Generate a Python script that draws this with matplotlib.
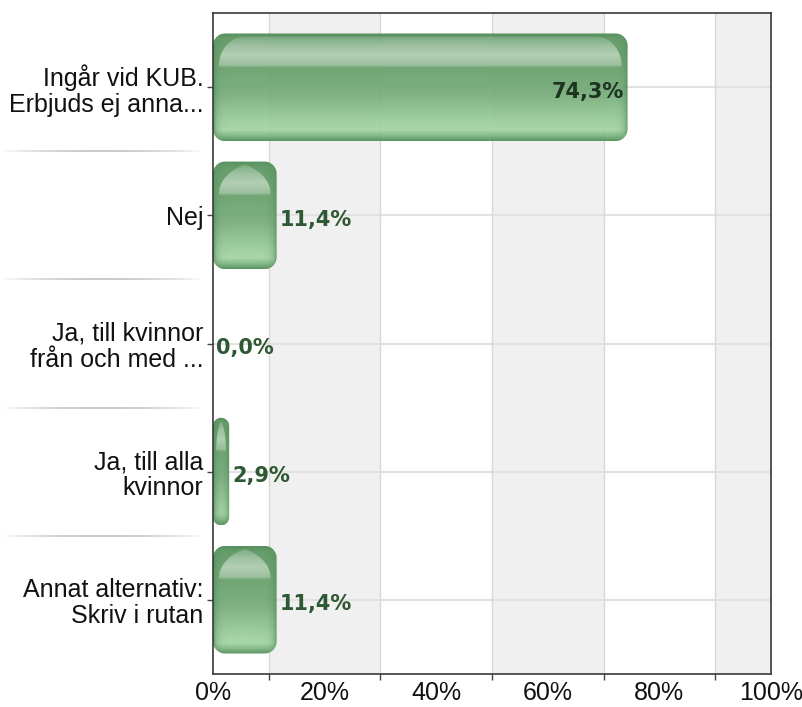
import numpy as np
import matplotlib
matplotlib.use("Agg")
import matplotlib.pyplot as plt
from matplotlib.patches import PathPatch
from matplotlib.path import Path
from matplotlib.collections import LineCollection
from matplotlib.colors import to_rgb
import matplotlib.transforms as mtransforms

# ---- data ----
categories = ["Ingår vid KUB.\nErbjuds ej anna...", "Nej",
              "Ja, till kvinnor\nfrån och med ...", "Ja, till alla\nkvinnor",
              "Annat alternativ:\nSkriv i rutan"]
values = [74.3, 11.4, 0.0, 2.9, 11.4]
value_labels = ["74,3%", "11,4%", "0,0%", "2,9%", "11,4%"]
xticks = [0, 20, 40, 60, 80, 100]
xtick_labels = ["0%", "20%", "40%", "60%", "80%", "100%"]
minor_ticks = [10, 30, 50, 70, 90]

W, H = 803, 707
fig = plt.figure(figsize=(W / 100, H / 100), dpi=100)
ax = fig.add_axes([213 / W, 1 - 674 / H, (771 - 213) / W, (674 - 13) / H])

n = len(categories)
ypos = np.arange(n)
ax.set_xlim(0, 100)
ax.set_ylim(n - 1 + 0.58, -0.58)

# background bands
bounds = [0] + minor_ticks + [100]
for i in range(len(bounds) - 1):
    if i % 2 == 1:
        ax.axvspan(bounds[i], bounds[i + 1], color="#f0f0f0", zorder=0, lw=0)

ax.set_xticks(xticks)
ax.set_xticklabels(xtick_labels, fontsize=18, family="Liberation Sans")
ax.set_xticks(minor_ticks, minor=True)
ax.tick_params(axis="x", which="major", length=0, pad=5, colors="#111111")
ax.tick_params(axis="x", which="minor", length=4, width=1, color="#444444")
ax.grid(True, axis="x", which="minor", color="#d8d8d8", lw=1, zorder=0.5)
ax.set_yticks(ypos)
ax.set_yticklabels(categories, fontsize=18, family="Liberation Sans", linespacing=1.12)
ax.tick_params(axis="y", length=4, width=1, color="#444444", pad=3)
for lab in ax.get_yticklabels():
    lab.set_color("#111111")
for s in ax.spines.values():
    s.set_color("#3a3a3a")
    s.set_linewidth(1.2)
    s.set_zorder(5)
for y in ypos:
    ax.axhline(y, color="#e2e2e2", lw=1.5, zorder=0.6)

bar_h = 0.84
px_x = ax.transData.transform((1, 0))[0] - ax.transData.transform((0, 0))[0]
px_y = abs(ax.transData.transform((0, 1))[1] - ax.transData.transform((0, 0))[1])


def lerp_colors(stops, t):
    ts = [s[0] for s in stops]
    cols = np.array([to_rgb(s[1]) for s in stops])
    out = np.zeros((len(t), 3))
    for c in range(3):
        out[:, c] = np.interp(t, ts, cols[:, c])
    return out


def rounded_path(x0, ytop, w, h, rx, ry):
    """Rounded rectangle with elliptical corners (y axis inverted)."""
    th = np.linspace(0, np.pi / 2, 24)
    pts = []
    cx, cy = x0 + rx, ytop + ry
    for a in th:
        pts.append((cx - rx * np.cos(a), cy - ry * np.sin(a)))
    cx = x0 + w - rx
    for a in th[::-1]:
        pts.append((cx + rx * np.cos(a), cy - ry * np.sin(a)))
    cy = ytop + h - ry
    for a in th:
        pts.append((cx + rx * np.cos(a), cy + ry * np.sin(a)))
    cx = x0 + rx
    for a in th[::-1]:
        pts.append((cx - rx * np.cos(a), cy + ry * np.sin(a)))
    pts.append(pts[0])
    codes = [Path.MOVETO] + [Path.LINETO] * (len(pts) - 2) + [Path.CLOSEPOLY]
    return Path(pts, codes)


def arch_path(x0, ytop, w, h, rx_px, ah_px, stretch):
    """Highlight shape: top corners are elliptical arcs; when stretch > 1 the
    arcs meet in a pointed (gothic) apex."""
    # work in pixel units, convert at the end
    wp, hp = w * px_x, h * px_y
    Rx = rx_px * stretch
    cosphi = (Rx - rx_px) / Rx
    phi = np.arccos(cosphi)
    Ry = ah_px / np.sin(phi)
    a = np.linspace(0, phi, 30)
    left = [(Rx - Rx * np.cos(t), ah_px - Ry * np.sin(t)) for t in a]
    right = [(wp - px, py) for px, py in left[::-1]]
    pts = left + right + [(wp, hp), (0, hp)]
    pts = [(x0 + px / px_x, ytop + py / px_y) for px, py in pts]
    pts.append(pts[0])
    codes = [Path.MOVETO] + [Path.LINETO] * (len(pts) - 2) + [Path.CLOSEPOLY]
    return Path(pts, codes)


body_stops = [(0.0, "#4a8850"), (0.05, "#5a965f"), (0.30, "#669f6a"),
              (0.55, "#75ab78"), (0.82, "#9bcd9c"), (0.90, "#a3d4a4"),
              (0.95, "#80b883"), (1.0, "#538f58")]
edge_col = np.array(to_rgb("#4a8850"))


def glossy_bar(y, w):
    if w <= 0:
        return
    wpx = w * px_x
    hpx = bar_h * px_y
    r = min(12.0, wpx / 2)
    ytop = y - bar_h / 2
    patch = PathPatch(rounded_path(0, ytop, w, bar_h, r / px_x, r / px_y),
                      facecolor="none", edgecolor="none", zorder=3)
    ax.add_patch(patch)
    nh, nw = int(hpx) + 1, max(int(wpx) + 1, 2)
    t = np.linspace(0, 1, nh)
    col = lerp_colors(body_stops, t)[:, None, :] * np.ones((1, nw, 1))
    xs = np.linspace(0, wpx, nw)
    d = np.minimum(xs, wpx - xs)
    f = np.exp(-d / 3.5)[None, :, None] * 0.8
    col = col * (1 - f) + edge_col * f
    img = np.dstack([col, np.full((nh, nw), 0.93)])
    im = ax.imshow(img, extent=(0, w, y + bar_h / 2, ytop),
                   origin="upper", aspect="auto", zorder=3,
                   interpolation="bilinear")
    im.set_clip_path(patch)
    # glossy highlight on top
    mx = min(6.0, wpx * 0.2)
    hx0 = mx / px_x
    hw = w - 2 * hx0
    htop = ytop + 3.0 / px_y
    hh = bar_h * 0.29
    if hw > 0:
        hwpx = hw * px_x
        if hwpx / 2 < 28.0:
            rx_px, stretch = hwpx / 2, 1.9
        else:
            rx_px, stretch = 26.0, 1.0
        ah_px = min(hh * px_y, 29.0)
        hpatch = PathPatch(arch_path(hx0, htop, hw, hh, rx_px, ah_px, stretch),
                           facecolor="none", edgecolor="none", zorder=3.5)
        ax.add_patch(hpatch)
        th = np.linspace(0, 1, 60)
        alpha = np.interp(th, [0, 0.3, 0.6, 0.92, 1.0], [0.14, 0.36, 0.48, 0.30, 0.0])
        himg = np.zeros((60, 2, 4))
        himg[:, :, :3] = 1.0
        himg[:, :, 3] = alpha[:, None]
        him = ax.imshow(himg, extent=(hx0, hx0 + hw, htop + hh, htop),
                        origin="upper", aspect="auto", zorder=3.5,
                        interpolation="bilinear")
        him.set_clip_path(hpatch)


for y, v in zip(ypos, values):
    glossy_bar(y, v)

for y, v, lab in zip(ypos, values, value_labels):
    if v > 20:
        ax.text(v - 4 / px_x, y + 0.035, lab, ha="right", va="center",
                fontsize=15, fontweight="bold", family="DejaVu Sans",
                color="#1d3420", zorder=6)
    else:
        ax.text(v + 3 / px_x, y + 0.035, lab, ha="left", va="center",
                fontsize=15, fontweight="bold", family="DejaVu Sans",
                color="#2e5834", zorder=6)

ax.set_xlim(0, 100)
ax.set_ylim(n - 1 + 0.58, -0.58)

# separator lines in the label area
trans = mtransforms.blended_transform_factory(ax.transAxes, ax.transData)
x0a, x1a = -213 / (771 - 213), -8 / (771 - 213)
xs = np.linspace(x0a, x1a, 80)
for k in range(n - 1):
    yy = k + 0.5
    segs = [[(xs[i], yy), (xs[i + 1], yy)] for i in range(len(xs) - 1)]
    tt = np.linspace(0, 1, len(segs))
    a = np.sin(np.pi * tt) ** 0.8
    cols = [(0.5, 0.5, 0.5, 0.5 * ai) for ai in a]
    lc = LineCollection(segs, colors=cols, linewidths=1.2, transform=trans,
                        clip_on=False)
    ax.add_collection(lc)

fig.savefig("out.png", dpi=100)
